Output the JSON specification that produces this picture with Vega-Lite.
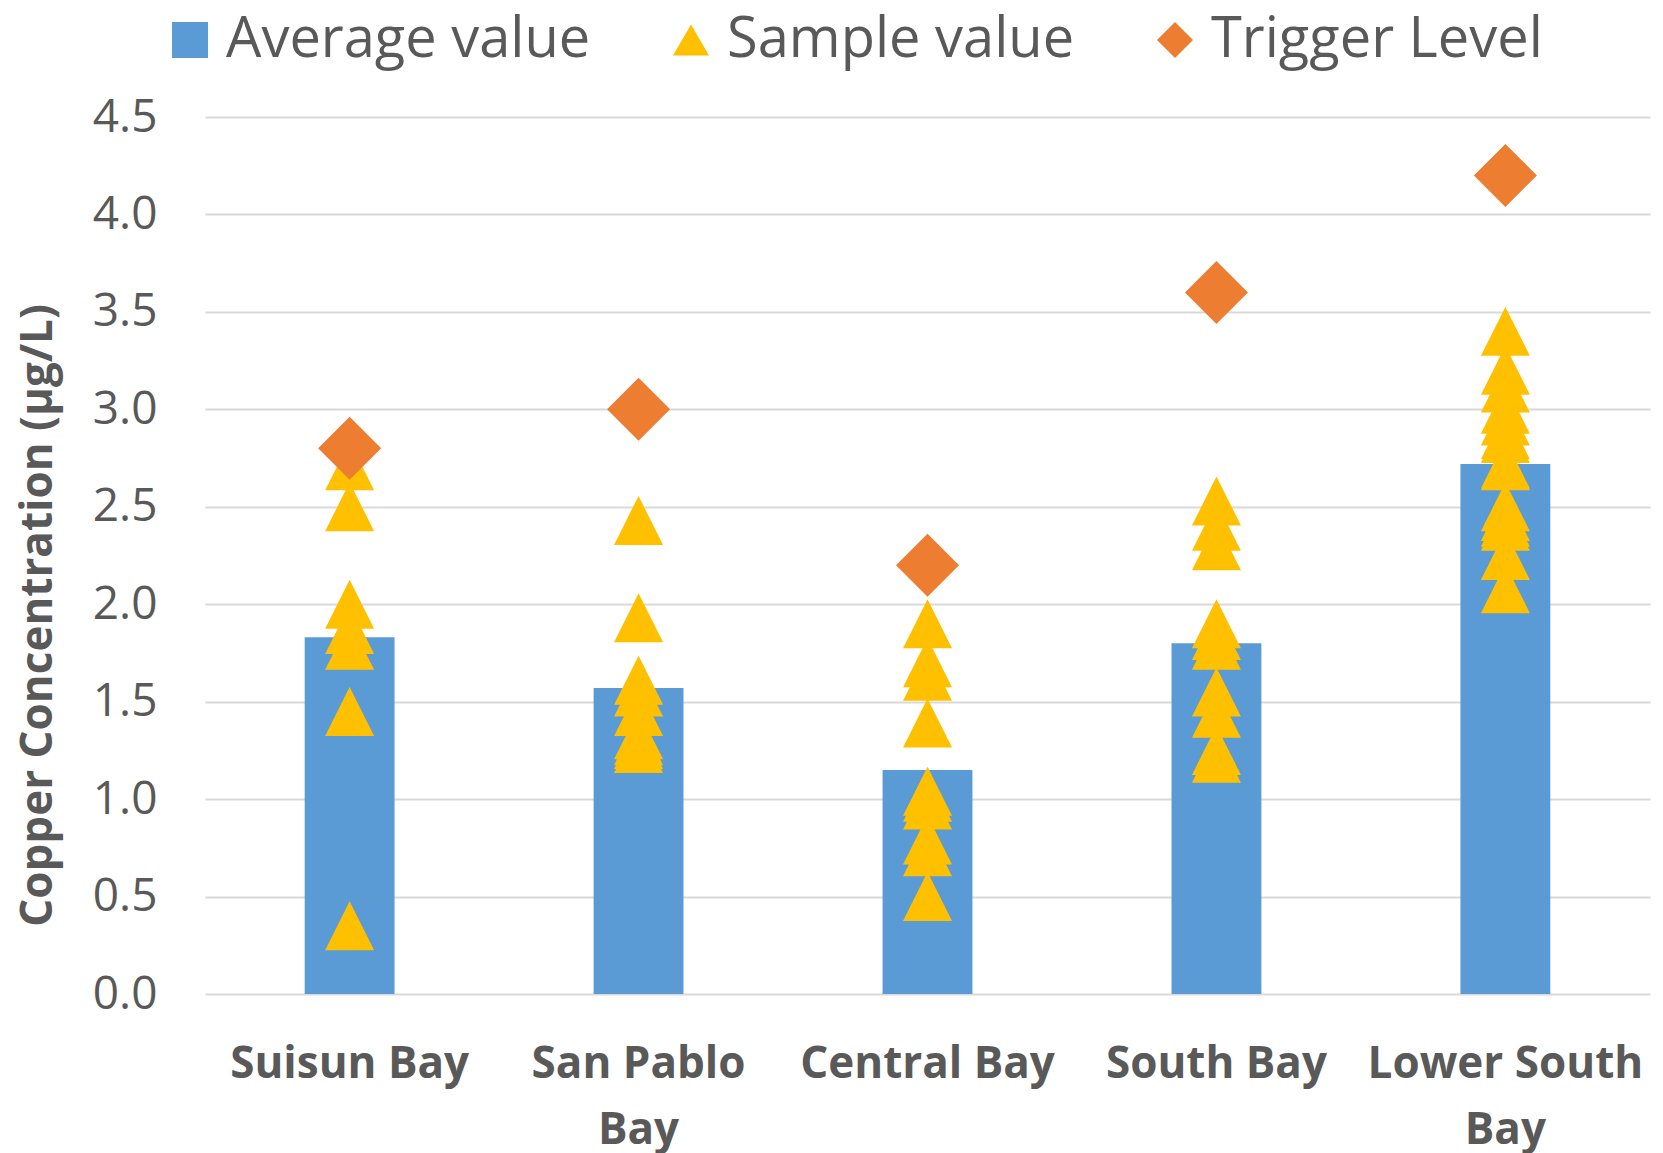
{
  "$schema": "https://vega.github.io/schema/vega-lite/v6.json",
  "width": 1445,
  "height": 877,
  "autosize": {"type": "none"},
  "padding": {"left": 205, "top": 117, "right": 13, "bottom": 159},
  "background": "white",
  "config": {
    "font": "Open Sans",
    "view": {"stroke": null},
    "legend": {
      "orient": "none",
      "legendX": -43,
      "legendY": -105,
      "direction": "horizontal",
      "labelFontSize": 56,
      "labelColor": "#595959",
      "labelFont": "Open Sans",
      "labelOffset": 8,
      "labelLimit": 600,
      "columnPadding": 72,
      "symbolSize": 1300,
      "symbolStrokeWidth": 0,
      "title": null
    }
  },
  "datasets": {
    "avg": [
      {"bay": "Suisun Bay", "value": 1.83},
      {"bay": "San Pablo Bay", "value": 1.57},
      {"bay": "Central Bay", "value": 1.15},
      {"bay": "South Bay", "value": 1.80},
      {"bay": "Lower South Bay", "value": 2.72}
    ],
    "samples": [
      {"bay": "Suisun Bay", "value": 0.35},
      {"bay": "Suisun Bay", "value": 1.45},
      {"bay": "Suisun Bay", "value": 1.79},
      {"bay": "Suisun Bay", "value": 1.87},
      {"bay": "Suisun Bay", "value": 2.0},
      {"bay": "Suisun Bay", "value": 2.5},
      {"bay": "Suisun Bay", "value": 2.71},
      {"bay": "San Pablo Bay", "value": 1.26},
      {"bay": "San Pablo Bay", "value": 1.28},
      {"bay": "San Pablo Bay", "value": 1.30},
      {"bay": "San Pablo Bay", "value": 1.33},
      {"bay": "San Pablo Bay", "value": 1.45},
      {"bay": "San Pablo Bay", "value": 1.55},
      {"bay": "San Pablo Bay", "value": 1.61},
      {"bay": "San Pablo Bay", "value": 1.93},
      {"bay": "San Pablo Bay", "value": 2.43},
      {"bay": "Central Bay", "value": 0.50},
      {"bay": "Central Bay", "value": 0.73},
      {"bay": "Central Bay", "value": 0.79},
      {"bay": "Central Bay", "value": 0.97},
      {"bay": "Central Bay", "value": 1.01},
      {"bay": "Central Bay", "value": 1.04},
      {"bay": "Central Bay", "value": 1.39},
      {"bay": "Central Bay", "value": 1.63},
      {"bay": "Central Bay", "value": 1.70},
      {"bay": "Central Bay", "value": 1.90},
      {"bay": "South Bay", "value": 1.21},
      {"bay": "South Bay", "value": 1.25},
      {"bay": "South Bay", "value": 1.44},
      {"bay": "South Bay", "value": 1.55},
      {"bay": "South Bay", "value": 1.79},
      {"bay": "South Bay", "value": 1.84},
      {"bay": "South Bay", "value": 1.90},
      {"bay": "South Bay", "value": 2.30},
      {"bay": "South Bay", "value": 2.40},
      {"bay": "South Bay", "value": 2.53},
      {"bay": "Lower South Bay", "value": 2.08},
      {"bay": "Lower South Bay", "value": 2.25},
      {"bay": "Lower South Bay", "value": 2.40},
      {"bay": "Lower South Bay", "value": 2.42},
      {"bay": "Lower South Bay", "value": 2.45},
      {"bay": "Lower South Bay", "value": 2.50},
      {"bay": "Lower South Bay", "value": 2.71},
      {"bay": "Lower South Bay", "value": 2.72},
      {"bay": "Lower South Bay", "value": 2.85},
      {"bay": "Lower South Bay", "value": 2.87},
      {"bay": "Lower South Bay", "value": 2.94},
      {"bay": "Lower South Bay", "value": 3.00},
      {"bay": "Lower South Bay", "value": 3.11},
      {"bay": "Lower South Bay", "value": 3.20},
      {"bay": "Lower South Bay", "value": 3.40}
    ],
    "trigger": [
      {"bay": "Suisun Bay", "value": 2.8},
      {"bay": "San Pablo Bay", "value": 3.0},
      {"bay": "Central Bay", "value": 2.2},
      {"bay": "South Bay", "value": 3.6},
      {"bay": "Lower South Bay", "value": 4.2}
    ]
  },
  "layer": [
    {
      "data": {"name": "avg"},
      "mark": {"type": "bar"},
      "encoding": {
        "x": {
          "field": "bay",
          "type": "nominal",
          "sort": ["Suisun Bay", "San Pablo Bay", "Central Bay", "South Bay", "Lower South Bay"],
          "scale": {"paddingInner": 0.689, "paddingOuter": 0.345},
          "axis": {
            "title": null,
            "labelAngle": 0,
            "labelFont": "Open Sans",
            "labelFontWeight": "bold",
            "labelFontSize": 44,
            "labelColor": "#595959",
            "labelPadding": 48,
            "labelLineHeight": 66,
            "labelLimit": 400,
            "domain": false,
            "ticks": false,
            "labelExpr": "datum.value == 'San Pablo Bay' ? ['San Pablo', 'Bay'] : datum.value == 'Lower South Bay' ? ['Lower South', 'Bay'] : datum.value"
          }
        },
        "y": {
          "field": "value",
          "type": "quantitative",
          "scale": {"domain": [0, 4.5], "nice": false},
          "axis": {
            "title": "Copper Concentration (µg/L)",
            "titleFont": "Open Sans",
            "titleFontSize": 44,
            "titleFontWeight": "bold",
            "titleColor": "#595959",
            "titlePadding": 32,
            "titleY": 498,
            "values": [0, 0.5, 1, 1.5, 2, 2.5, 3, 3.5, 4, 4.5],
            "format": ".1f",
            "labelFont": "Open Sans",
            "labelFontSize": 46,
            "labelColor": "#595959",
            "labelPadding": 48,
            "domain": false,
            "ticks": false,
            "gridColor": "#d9d9d9",
            "gridWidth": 2
          }
        },
        "color": {
          "datum": "Average value",
          "scale": {
            "domain": ["Average value", "Sample value", "Trigger Level"],
            "range": ["#5B9BD5", "#FFC000", "#ED7D31"]
          },
          "legend": {
            "encode": {
              "symbols": {
                "update": {
                  "shape": {"signal": "datum.value === 'Average value' ? 'square' : datum.value === 'Sample value' ? 'triangle-up' : 'diamond'"}
                }
              }
            }
          }
        }
      }
    },
    {
      "data": {"name": "samples"},
      "mark": {"type": "point", "filled": true, "opacity": 1, "shape": "M-1,1L0,-1L1,1Z", "size": 2400},
      "encoding": {
        "x": {"field": "bay", "type": "nominal", "sort": ["Suisun Bay", "San Pablo Bay", "Central Bay", "South Bay", "Lower South Bay"]},
        "y": {"field": "value", "type": "quantitative"},
        "color": {"datum": "Sample value"}
      }
    },
    {
      "data": {"name": "trigger"},
      "mark": {"type": "point", "filled": true, "opacity": 1, "shape": "diamond", "size": 3970},
      "encoding": {
        "x": {"field": "bay", "type": "nominal", "sort": ["Suisun Bay", "San Pablo Bay", "Central Bay", "South Bay", "Lower South Bay"]},
        "y": {"field": "value", "type": "quantitative"},
        "color": {"datum": "Trigger Level"}
      }
    }
  ]
}
